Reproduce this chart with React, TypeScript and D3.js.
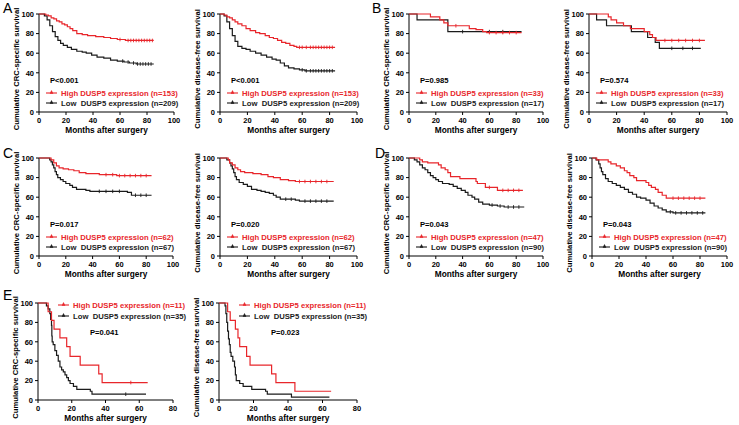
import React from "react";
import * as d3 from "d3";

// ---------- DATA ----------
// Each curve: [months, survival %] change points (step after), last point = end of follow-up
const aCrcHigh = [[0,100],[5,99],[7,98],[9,96],[11,95],[13,93],[15,92],[17,90],[19,89],[21,87],[23,85],[25,83],[28,80],[32,79],[36,78],[42,77],[48,76],[53,75],[58,74],[64,73],[85,73]];
const aCrcLow = [[0,100],[4,98],[6,94],[8,88],[10,82],[12,77],[14,73],[16,70],[18,68],[21,66],[24,64],[28,62],[32,61],[35,60],[39,58],[43,56],[48,55],[53,53],[58,52],[63,51],[67,50],[72,49],[85,49]];
const aDfsHigh = [[0,100],[3,99],[5,97],[7,96],[9,94],[11,92],[13,90],[16,88],[19,85],[22,83],[26,81],[29,80],[33,78],[36,76],[39,75],[42,73],[45,71],[48,70],[51,68],[54,67],[56,66],[84,66]];
const aDfsLow = [[0,100],[3,98],[5,92],[7,85],[9,78],[11,72],[13,67],[16,65],[19,64],[22,62],[26,60],[30,58],[34,56],[38,54],[41,53],[44,50],[47,47],[50,45],[54,44],[58,43],[62,42],[84,42]];
const bCrcHigh = [[0,100],[16,97],[23,94],[26,91],[29,88],[45,85],[50,84],[55,82],[58,81],[84,81]];
const bCrcLow = [[0,100],[6,94],[29,82],[84,82]];
const bDfsHigh = [[0,100],[14,97],[16,94],[20,91],[25,88],[30,85],[40,82],[44,79],[46,76],[48.6,73],[84,73]];
const bDfsLow = [[0,100],[5.5,94],[12.7,88],[30.7,82],[42.5,76],[48,71],[51,65],[81,65]];
const cCrcHigh = [[0,100],[9,98],[11,95],[13,92],[15,90],[18,89],[22,88],[26,87],[30,85],[35,84],[45,83],[58,82],[84,82]];
const cCrcLow = [[0,100],[8,98],[9,96],[10,93],[11,90],[12,86],[13,83],[14,80],[16,78],[18,76],[20,74],[23,72],[25,70],[28,68],[35,67],[38,66],[66,65],[69,62],[84,62]];
const cDfsHigh = [[0,100],[6,98],[7,95],[9,93],[11,90],[13,88],[15,86],[18,85],[24,84],[30,83],[35,81],[39,80],[44,78],[50,77],[55,76],[83,76]];
const cDfsLow = [[0,100],[5,98],[7,95],[8,92],[9,89],[10,85],[11,81],[12,78],[14,75],[17,73],[20,71],[23,68],[27,67],[30,66],[33,65],[36,64],[39,62],[41,60],[44,58],[55,57],[58,56],[83,56]];
const dCrcHigh = [[0,100],[8,98],[10,96],[14,95],[22,93],[24,90],[27,88],[29,85],[31,81],[38,79],[50,76],[51,74],[57,70],[66,67],[85,67]];
const dCrcLow = [[0,100],[4,98],[6,96],[8,93],[10,90],[12,88],[14,85],[16,82],[18,80],[20,78],[22,76],[25,74],[30,73],[33,71],[36,69],[39,67],[42,65],[44,62],[47,60],[49,58],[52,55],[55,53],[60,52],[66,51],[71,50],[86,50]];
const dDfsHigh = [[0,100],[3.5,98],[12,96],[14,94],[18,92],[21,90],[24,87],[26,85],[28,82],[31,80],[33,77],[40,75],[42,72],[44,70],[47,68],[49,65],[52,62],[55,59],[84,59]];
const dDfsLow = [[0,100],[3,98],[5,94],[6,90],[7,86],[8,83],[10,79],[12,76],[15,74],[18,72],[21,70],[24,68],[27,65],[30,63],[33,60],[36,59],[40,57],[43,54],[46,51],[49,49],[52,47],[55,45],[60,44],[84,44]];
const eCrcHigh = [[0,100],[6,91],[8,82],[9.5,73],[13,64],[17,55],[19,45],[25,36],[36,27],[38,18],[65,18]];
const eCrcLow = [[0,100],[5,97],[6,94],[7,89],[7.5,83],[8,77],[8.2,66],[8.4,60],[9,57],[10,51],[11,46],[12,40],[13,34],[14,31],[15,29],[16,26],[17,23],[18,20],[19,17],[21,14],[23,11],[31,9],[32,6],[64,6]];
const eDfsHigh = [[0,100],[5,91],[6.5,82],[9.5,73],[11,64],[12,55],[16,45],[18,36],[30.5,27],[33,18],[44,9],[65,9]];
const eDfsLow = [[0,100],[3.5,97],[4,89],[4.5,80],[5,71],[5.5,63],[6,57],[6.5,49],[7,45],[8,40],[9,34],[9.5,26],[10,20],[12,17],[14,14],[19,11],[27,9],[28,6],[42,3],[64,3]];

// censoring times
const aCrcHighCens = [60,66,68,70,72,74,76,78,80,82,84];
const aCrcLowCens = [62,66,70,73,75,77,79,81,83];
const aDfsHighCens = [58,60,63,66,68,70,72,74,76,78,80,82];
const aDfsLowCens = [60,63,66,68,70,72,74,76,78,80,82];
const bCrcHighCens = [35,60,65,70,75,80];
const bCrcLowCens = [40,60,70];
const bDfsHighCens = [55,60,65,70,75,80];
const bDfsLowCens = [60,68,75];
const cCrcHighCens = [50,55,60,64,68,72,76,80];
const cCrcLowCens = [45,50,55,60,72,76,80];
const cDfsHighCens = [58,62,66,70,74,78];
const cDfsLowCens = [48,52,62,66,70,74,78];
const dCrcHighCens = [60,70,74,78,82];
const dCrcLowCens = [62,68,74,78,82];
const dDfsHighCens = [60,64,68,72,76,80];
const dDfsLowCens = [58,62,66,70,74,78,82];
const eCrcHighCens = [55];
const eCrcLowCens = [52];
const eDfsHighCens: number[] = [];
const eDfsLowCens: number[] = [];

const xTicks100 = [0, 20, 40, 60, 80, 100];
const xTicks80 = [0, 20, 40, 60, 80];
const yTicks = [0, 20, 40, 60, 80, 100];
const pValues = ["P<0.001", "P<0.001", "P=0.985", "P=0.574", "P=0.017", "P=0.020", "P=0.043", "P=0.043", "P=0.041", "P=0.023"];
const nHigh = [153, 153, 33, 33, 62, 62, 47, 47, 11, 11];
const nLow = [209, 209, 17, 17, 67, 67, 90, 90, 35, 35];
const yTitles = ["Cumulative CRC-specific survival", "Cumulative disease-free survival"];
const xTitle = "Months after surgery";
const panelLetters = ["A", "B", "C", "D", "E"];

// ---------- LAYOUT ----------
const RED = "#e8262b";
const BLACK = "#1b1b1b";
const FONT = "'Liberation Sans', Arial, sans-serif";

const panels = [
  { x0: 39, x1: 174, yT: 14, yB: 112, ticks: xTicks100, high: aCrcHigh, low: aCrcLow, hc: aCrcHighCens, lc: aCrcLowCens, t: 0, legTop: false },
  { x0: 220, x1: 357, yT: 14, yB: 112, ticks: xTicks100, high: aDfsHigh, low: aDfsLow, hc: aDfsHighCens, lc: aDfsLowCens, t: 1, legTop: false },
  { x0: 409, x1: 543, yT: 14, yB: 112, ticks: xTicks100, high: bCrcHigh, low: bCrcLow, hc: bCrcHighCens, lc: bCrcLowCens, t: 0, legTop: false },
  { x0: 589, x1: 727, yT: 14, yB: 112, ticks: xTicks100, high: bDfsHigh, low: bDfsLow, hc: bDfsHighCens, lc: bDfsLowCens, t: 1, legTop: false },
  { x0: 39, x1: 173, yT: 158, yB: 256, ticks: xTicks100, high: cCrcHigh, low: cCrcLow, hc: cCrcHighCens, lc: cCrcLowCens, t: 0, legTop: false },
  { x0: 220, x1: 357, yT: 158, yB: 256, ticks: xTicks100, high: cDfsHigh, low: cDfsLow, hc: cDfsHighCens, lc: cDfsLowCens, t: 1, legTop: false },
  { x0: 409, x1: 543, yT: 158, yB: 256, ticks: xTicks100, high: dCrcHigh, low: dCrcLow, hc: dCrcHighCens, lc: dCrcLowCens, t: 0, legTop: false },
  { x0: 592, x1: 727, yT: 158, yB: 256, ticks: xTicks100, high: dDfsHigh, low: dDfsLow, hc: dDfsHighCens, lc: dDfsLowCens, t: 1, legTop: false },
  { x0: 38, x1: 173, yT: 303, yB: 400, ticks: xTicks80, high: eCrcHigh, low: eCrcLow, hc: eCrcHighCens, lc: eCrcLowCens, t: 0, legTop: true },
  { x0: 219, x1: 357, yT: 303, yB: 400, ticks: xTicks80, high: eDfsHigh, low: eDfsLow, hc: eDfsHighCens, lc: eDfsLowCens, t: 1, legTop: true },
];
const letterPos = [[3, 13], [372, 13], [3, 158], [375, 158], [3, 300]];

function survAt(curve: number[][], t: number) {
  let s = curve[0][1];
  for (const [tt, v] of curve) { if (tt <= t) s = v; }
  return s;
}

function LegendMark({ x, y, color }: { x: number; y: number; color: string }) {
  return (
    <g stroke={color} fill={color}>
      <line x1={x} x2={x + 11} y1={y} y2={y} strokeWidth={1.1} />
      <path d={`M${x + 4},${y + 0.5} L${x + 5.5},${y - 2.5} L${x + 7},${y + 0.5} Z`} strokeWidth={0.5} />
    </g>
  );
}

function Panel({ p, i }: { p: any; i: number }) {
  const xMax = p.ticks[p.ticks.length - 1];
  const x = d3.scaleLinear().domain([0, xMax]).range([p.x0, p.x1]);
  const y = d3.scaleLinear().domain([0, 100]).range([p.yB, p.yT]);
  const line = d3.line<number[]>().x(d => x(d[0])).y(d => y(d[1])).curve(d3.curveStepAfter);
  const curves = [
    { data: p.low, cens: p.lc, color: BLACK },
    { data: p.high, cens: p.hc, color: RED },
  ];
  const legX = p.legTop ? p.x0 + 20 : p.x0 + 7;
  const txtX = p.legTop ? p.x0 + 35 : p.x0 + 22;
  const hiY = p.legTop ? p.yT + 2 : p.yT + 79;
  const loY = p.legTop ? p.yT + 13 : p.yT + 89;
  const pX = p.legTop ? p.x0 + 52 : p.x0 + 11;
  const pY = p.legTop ? p.yT + 29 : p.yT + 66;
  const tickFs = 7.5;
  const legFs = 7.7;
  return (
    <g fontFamily={FONT}>
      {/* axes */}
      <line x1={p.x0} x2={p.x0} y1={p.yT} y2={p.yB} stroke="#000" strokeWidth={1} />
      <line x1={p.x0} x2={x(xMax)} y1={p.yB} y2={p.yB} stroke="#000" strokeWidth={1} />
      {yTicks.map(t => (
        <g key={"y" + t}>
          <line x1={p.x0 - 3} x2={p.x0} y1={y(t)} y2={y(t)} stroke="#000" strokeWidth={1} />
          <text x={p.x0 - 5} y={y(t) + 2.7} textAnchor="end" fontSize={tickFs} fontWeight="bold">{t}</text>
        </g>
      ))}
      {p.ticks.map((t: number) => (
        <g key={"x" + t}>
          <line x1={x(t)} x2={x(t)} y1={p.yB} y2={p.yB + 3} stroke="#000" strokeWidth={1} />
          <text x={x(t)} y={p.yB + 10.8} textAnchor="middle" fontSize={tickFs} fontWeight="bold">{t}</text>
        </g>
      ))}
      <text x={(p.x0 + x(xMax)) / 2} y={p.yB + 20.5} textAnchor="middle" fontSize={8.3} fontWeight="bold">{xTitle}</text>
      <text transform={`translate(${p.x0 - 20},${(p.yT + p.yB) / 2 + 6}) rotate(-90)`} textAnchor="middle" fontSize={7.7} fontWeight="bold">{yTitles[p.t]}</text>
      {/* curves */}
      {curves.map((c, k) => (
        <g key={k}>
          <path d={line(c.data) || ""} fill="none" stroke={c.color} strokeWidth={1.2} />
          {c.cens.map((t: number) => (
            <line key={t} x1={x(t)} x2={x(t)} y1={y(survAt(c.data, t)) - 1.8} y2={y(survAt(c.data, t)) + 1.8} stroke={c.color} strokeWidth={0.9} />
          ))}
        </g>
      ))}
      {/* legend */}
      <text x={pX} y={pY + 2.7} fontSize={7.6} fontWeight="bold">{pValues[i]}</text>
      <LegendMark x={legX} y={hiY} color={RED} />
      <text x={txtX} y={hiY + 2.7} fontSize={legFs} fontWeight="bold" fill={RED}>{`High DUSP5 expression (n=${nHigh[i]})`}</text>
      <LegendMark x={legX} y={loY} color={BLACK} />
      <text x={txtX} y={loY + 2.7} fontSize={legFs} fontWeight="bold" fill={BLACK} style={{ whiteSpace: "pre" }}>{`Low  DUSP5 expression (n=${nLow[i]})`}</text>
    </g>
  );
}

export default function App() {
  return (
    <svg width={739} height={425} style={{ position: "absolute", left: 0, top: 0, background: "#fff" }}>
      <rect width={739} height={425} fill="#fff" />
      {panels.map((p, i) => <Panel key={i} p={p} i={i} />)}
      {panelLetters.map((l, i) => (
        <text key={l} x={letterPos[i][0]} y={letterPos[i][1]} fontSize={14} fontFamily={FONT}>{l}</text>
      ))}
    </svg>
  );
}
